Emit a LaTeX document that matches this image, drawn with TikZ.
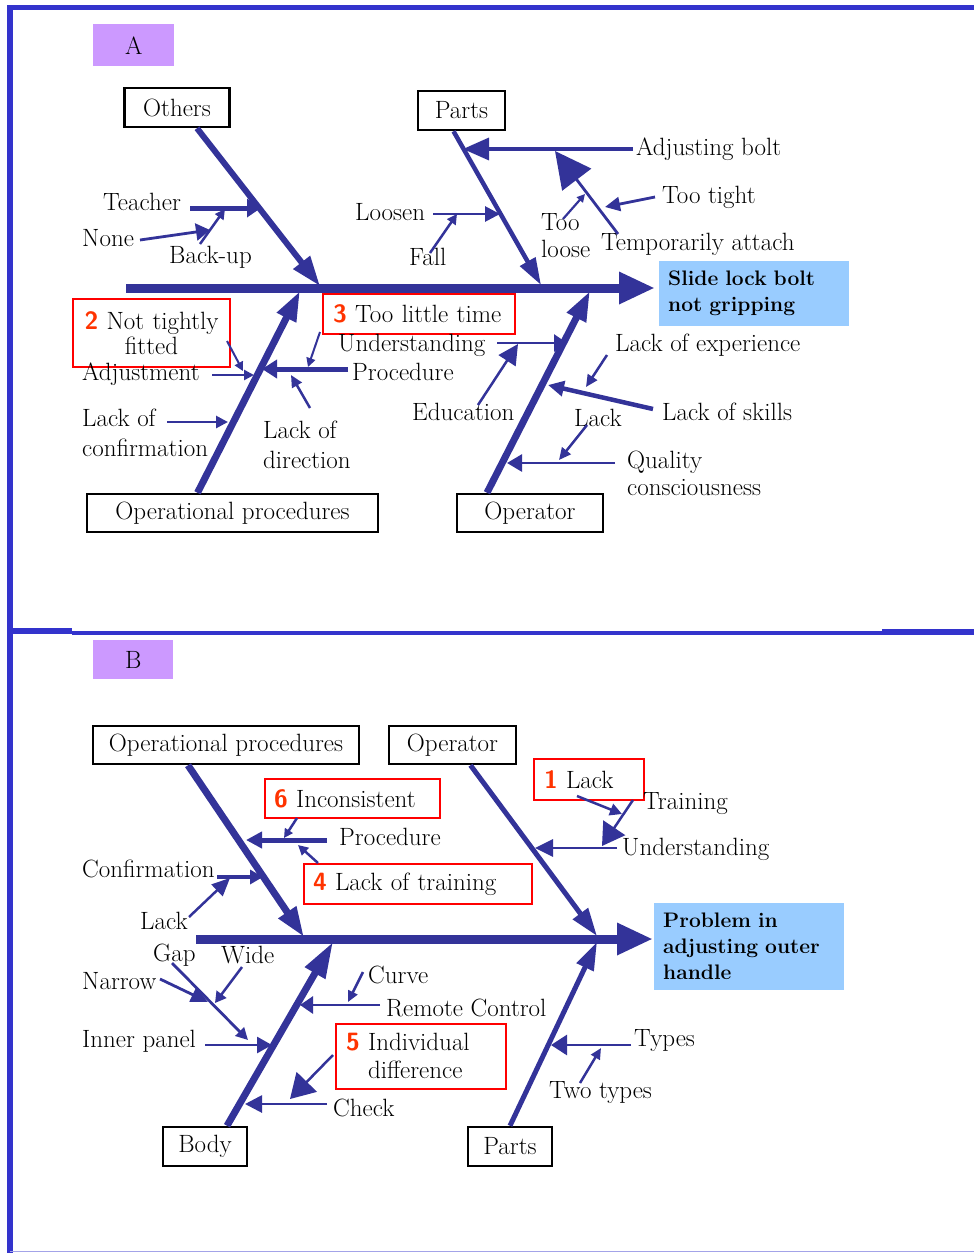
\documentclass[tikz,border=0pt]{standalone}
\usetikzlibrary{arrows.meta}

\definecolor{fishblue}{HTML}{333399}
\definecolor{framebl}{HTML}{3333CC}
\definecolor{lilac}{HTML}{CC99FF}
\definecolor{effblue}{HTML}{99CCFF}
\definecolor{numred}{HTML}{FF3300}

\newcommand{\rednum}[1]{{\color{numred}\sffamily\bfseries #1}}

\tikzset{
  txt/.style={font=\fontsize{25}{29}\selectfont, inner sep=0pt, align=left, anchor=west},
  cat/.style={font=\fontsize{25}{29}\selectfont, draw=black, line width=2.5pt, fill=white, minimum height=38pt, inner sep=0pt},
  note/.style={font=\fontsize{25}{28}\selectfont, draw=red, line width=2pt, inner xsep=10pt, inner ysep=0pt, align=left, anchor=north west},
  effect/.style={font=\fontsize{21}{26}\selectfont\bfseries, fill=effblue, inner xsep=9pt, inner ysep=0pt, align=left, anchor=north west},
  lettertag/.style={font=\fontsize{25}{29}\selectfont, fill=lilac, anchor=north west},
  spine/.style={fishblue, line width=9pt, -{Triangle[length=36pt,width=30pt]}},
  bone/.style={fishblue, line width=6pt, -{Triangle[length=30pt,width=20pt]}},
  twig/.style 2 args={fishblue, line width=2.8pt, -{Triangle[length=#1pt,width=#2pt]}},
}

\begin{document}
\begin{tikzpicture}[x=1pt,y=-1pt]
\useasboundingbox (0,0) rectangle (974,1253);

% frame
\draw[framebl, line width=5.5pt] (7,7.5) -- (974,7.5);
\draw[framebl, line width=5.5pt] (10,5) -- (10,1253);
\draw[framebl, line width=6pt] (7,631) -- (72,631);
\draw[framebl, line width=4pt] (72,633) -- (882,633);
\draw[framebl, line width=6pt] (882,631.5) -- (974,631.5);
\draw[framebl!45, line width=1.5pt] (10,1251.5) -- (974,1251.5);

%%%%%%%%%%%%%%%% A
\node[lettertag, minimum width=81pt, minimum height=42pt] (labA) at (93,24) {A};
\node[effect, minimum height=65pt, text width=172pt] (effA) at (659,261) {Slide lock bolt\\not gripping};

\node[cat, minimum width=105pt, minimum height=39pt] (othA) at (177,107.5) {Others};
\node[cat, minimum width=87pt, minimum height=39pt] (parA) at (461.5,110.5) {Parts};
\node[cat, minimum width=291pt] (opA) at (232.5,513) {Operational procedures};
\node[cat, minimum width=146pt] (oprA) at (530,513) {Operator};

% labels
\node[txt] (teacher) at (103,202) {Teacher};
\node[txt] (none) at (82,238) {None};
\node[txt] (backup) at (169,257) {Back-up};
\node[txt] (loosen) at (355,212) {Loosen};
\node[txt] (fall) at (409,257) {Fall};
\node[txt] (adjbolt) at (636,149) {Adjusting bolt};
\node[txt] (tootight) at (662,197) {Too tight};
\node[txt, font=\fontsize{25}{27}\selectfont] (tooloose) at (541,236) {Too\\loose};
\node[txt] (tempatt) at (601,244) {Temporarily attach};
\node[note, font=\fontsize{25}{25}\selectfont, text width=141pt, inner xsep=8pt, align=center, minimum height=68pt] (n2) at (72,298) {\rednum{2} Not tightly\\fitted};
\node[txt] (adjust) at (82,374) {Adjustment};
\node[note, text width=172pt, minimum height=40pt] (n3) at (322,293) {\rednum{3} Too little time};
\node[txt] (underA) at (338,345) {Understanding};
\node[txt] (procA) at (352,372) {Procedure};
\node[txt, font=\fontsize{25}{30}\selectfont] (lackconf) at (82,433) {Lack of\\confirmation};
\node[txt, font=\fontsize{25}{30}\selectfont] (lackdir) at (263,445) {Lack of\\direction};
\node[txt] (educ) at (412,412) {Education};
\node[txt] (lackexp) at (615,345) {Lack of experience};
\node[txt] (lackskill) at (662,412) {Lack of skills};
\node[txt] (lackA) at (574,418) {Lack};
\node[txt, font=\fontsize{25}{27}\selectfont] (quality) at (627,473.5) {Quality\\consciousness};

% spine and bones
\coordinate (spA0) at (126,288);
\coordinate (spA1) at (655,288);
\coordinate (othE) at (320,286);
\coordinate (parE) at (541,285);
\coordinate (opE) at (300,291);
\coordinate (oprE) at (590,291);

\draw[spine] (spA0) -- (spA1);
\draw[bone] ([xshift=20pt]othA.south) -- (othE);
\draw[bone, line width=4.5pt, -{Triangle[length=27pt,width=17pt]}] ([xshift=-8pt]parA.south) -- (parE);
\draw[bone, line width=7pt] ([xshift=-35pt]opA.north) -- (opE);
\draw[bone, line width=7pt] ([xshift=-43pt]oprA.north) -- (oprE);

% twigs
\coordinate (tchS) at (190,208);
\coordinate (tchE) at (261,208);
\coordinate (nonS) at (140,240);
\coordinate (nonE) at (210,230);
\coordinate (bkS) at (200,244);
\coordinate (bkE) at (225,209);
\coordinate (lsS) at (433,214);
\coordinate (lsE) at (500,214);
\coordinate (flS) at (430,253);
\coordinate (flE) at (457,214);
\coordinate (abS) at (633,149);
\coordinate (abE) at (463,149);
\coordinate (taS) at (618,234);
\coordinate (taE) at (555,151);
\coordinate (ttiS) at (655,197);
\coordinate (ttiE) at (605,207);
\coordinate (tloS) at (563,219);
\coordinate (tloE) at (585,194);
\coordinate (amS) at (212,375);
\coordinate (amE) at (254,375);
\coordinate (n2S) at (227,341);
\coordinate (n2E) at (243,371);
\coordinate (prS) at (348,369);
\coordinate (prE) at (262,369);
\coordinate (n3S) at (320,332);
\coordinate (n3E) at (308,367);
\coordinate (unS) at (497,343);
\coordinate (unE) at (567,343);
\coordinate (edS) at (478,405);
\coordinate (edE) at (518,344);
\coordinate (lcS) at (167,422);
\coordinate (lcE) at (228,422);
\coordinate (ldS) at (310,408);
\coordinate (ldE) at (291,375);
\coordinate (leS) at (607,355);
\coordinate (leE) at (586,387);
\coordinate (lkS) at (653,409);
\coordinate (lkE) at (548,385);
\coordinate (laS) at (587,425);
\coordinate (laE) at (559,460);
\coordinate (qS) at (615,463);
\coordinate (qE) at (507,463);

\draw[twig={14}{18}, line width=5pt] (tchS) -- (tchE);
\draw[twig={14}{17}] (nonS) -- (nonE);
\draw[twig={10}{10}, line width=2.5pt] (bkS) -- (bkE);
\draw[twig={15}{15}] (lsS) -- (lsE);
\draw[twig={10}{10}, line width=2.5pt] (flS) -- (flE);
\draw[twig={26}{22}, line width=3.5pt] (abS) -- (abE);
\draw[twig={36}{36}] (taS) -- (taE);
\draw[twig={15}{14}] (ttiS) -- (ttiE);
\draw[twig={8}{8}, line width=2.2pt] (tloS) -- (tloE);
\draw[twig={10}{10}] (amS) -- (amE);
\draw[twig={9}{9}, line width=2pt] (n2S) -- (n2E);
\draw[twig={15}{18}, line width=5pt] (prS) -- (prE);
\draw[twig={9}{9}, line width=2pt] (n3S) -- (n3E);
\draw[twig={13}{17}] (unS) -- (unE);
\draw[twig={20}{20}, line width=2.5pt] (edS) -- (edE);
\draw[twig={12}{12}] (lcS) -- (lcE);
\draw[twig={12}{11}, line width=2.5pt] (ldS) -- (ldE);
\draw[twig={12}{11}, line width=2.5pt] (leS) -- (leE);
\draw[twig={16}{15}, line width=4.5pt] (lkS) -- (lkE);
\draw[twig={12}{11}, line width=2.5pt] (laS) -- (laE);
\draw[twig={15}{17}] (qS) -- (qE);

%%%%%%%%%%%%%%%% B
\node[lettertag, minimum width=80pt, minimum height=39pt] (labB) at (93,640) {B};
\node[effect, minimum height=87pt, text width=172pt] (effB) at (654,903) {Problem in\\adjusting outer\\handle};

\node[cat, minimum width=266pt] (opB) at (226,745) {Operational procedures};
\node[cat, minimum width=127pt] (oprB) at (452.5,745) {Operator};
\node[cat, minimum width=84pt, minimum height=39pt] (bodB) at (205,1146.5) {Body};
\node[cat, minimum width=84pt, minimum height=39pt] (parB) at (510,1146.5) {Parts};

% labels
\node[note, text width=157pt, inner xsep=9pt, minimum height=39pt] (n6) at (264,778) {\rednum{6} Inconsistent};
\node[txt] (procB) at (339,837) {Procedure};
\node[note, text width=210pt, inner xsep=9pt, minimum height=40pt] (n4) at (303,863) {\rednum{4} Lack of training};
\node[txt] (confB) at (82,869) {Confirmation};
\node[txt] (lackB) at (140,921) {Lack};
\node[txt] (gap) at (153,955) {Gap};
\node[txt] (wide) at (221,955) {Wide};
\node[txt] (narrow) at (82,981) {Narrow};
\node[txt] (inner) at (82,1041) {Inner panel};
\node[txt] (curve) at (368,975) {Curve};
\node[txt] (remote) at (386,1008) {Remote Control};
\node[note, text width=150pt, minimum height=65pt] (n5) at (335,1023) {\rednum{5} Individual\\\phantom{\rednum{5} }difference};
\node[txt] (check) at (333,1108) {Check};
\node[note, text width=90pt, minimum height=41pt] (n1) at (533,758) {\rednum{1} Lack};
\node[txt] (training) at (643,804) {Training};
\node[txt] (underB) at (622,849) {Understanding};
\node[txt] (types) at (634,1041) {Types};
\node[txt] (twotypes) at (549,1093) {Two types};

% spine and bones
\coordinate (spB0) at (196,939);
\coordinate (spB1) at (653,939);
\coordinate (opBE) at (304,937);
\coordinate (oprBE) at (597,936);
\coordinate (bodBE) at (333,942);
\coordinate (parBE) at (597,942);

\draw[spine] (spB0) -- (spB1);
\draw[bone, line width=7pt] ([xshift=-38pt]opB.south) -- (opBE);
\draw[bone, line width=5pt, -{Triangle[length=28pt,width=18pt]}] ([xshift=18pt]oprB.south) -- (oprBE);
\draw[bone, line width=7pt, -{Triangle[length=36pt,width=22pt]}] ([xshift=22pt]bodB.north) -- (bodBE);
\draw[bone, line width=5pt, -{Triangle[length=28pt,width=18pt]}] (parB.north) -- (parBE);

% twigs
\coordinate (pbS) at (327,840);
\coordinate (pbE) at (246,840);
\coordinate (n6S) at (297,818);
\coordinate (n6E) at (284,838);
\coordinate (n4S) at (318,863);
\coordinate (n4E) at (298,845);
\coordinate (cfS) at (217,877);
\coordinate (cfE) at (263,877);
\coordinate (lbS) at (189,917);
\coordinate (lbE) at (230,878);
\coordinate (gpS) at (172,963);
\coordinate (gpE) at (248,1040);
\coordinate (nrS) at (160,979);
\coordinate (nrE) at (208,1002);
\coordinate (wdS) at (242,967);
\coordinate (wdE) at (215,1003);
\coordinate (ipS) at (205,1045);
\coordinate (ipE) at (272,1045);
\coordinate (cvS) at (363,972);
\coordinate (cvE) at (348,1002);
\coordinate (rcS) at (380,1005);
\coordinate (rcE) at (300,1005);
\coordinate (n5S) at (333,1055);
\coordinate (n5E) at (290,1099);
\coordinate (ckS) at (327,1104);
\coordinate (ckE) at (245,1104);
\coordinate (n1S) at (577,796);
\coordinate (n1E) at (622,814);
\coordinate (trS) at (633,800);
\coordinate (trE) at (602,846);
\coordinate (ubS) at (617,848);
\coordinate (ubE) at (535,848);
\coordinate (tyS) at (631,1045);
\coordinate (tyE) at (551,1045);
\coordinate (t2S) at (580,1083);
\coordinate (t2E) at (601,1048);

\draw[twig={16}{16}, line width=5pt] (pbS) -- (pbE);
\draw[twig={9}{9}, line width=2.5pt] (n6S) -- (n6E);
\draw[twig={10}{10}, line width=2.5pt] (n4S) -- (n4E);
\draw[twig={13}{14}, line width=4pt] (cfS) -- (cfE);
\draw[twig={18}{16}, line width=2.5pt] (lbS) -- (lbE);
\draw[twig={12}{12}] (gpS) -- (gpE);
\draw[twig={17}{15}] (nrS) -- (nrE);
\draw[twig={11}{12}, line width=2.5pt] (wdS) -- (wdE);
\draw[twig={15}{16}] (ipS) -- (ipE);
\draw[twig={11}{10}, line width=2.5pt] (cvS) -- (cvE);
\draw[twig={13}{17}] (rcS) -- (rcE);
\draw[twig={24}{28}, line width=2.5pt] (n5S) -- (n5E);
\draw[twig={17}{17}] (ckS) -- (ckE);
\draw[twig={12}{12}, line width=2.5pt] (n1S) -- (n1E);
\draw[twig={22}{26}, line width=2.5pt] (trS) -- (trE);
\draw[twig={18}{17}] (ubS) -- (ubE);
\draw[twig={16}{20}] (tyS) -- (tyE);
\draw[twig={11}{10}, line width=2.5pt] (t2S) -- (t2E);

\end{tikzpicture}
\end{document}
